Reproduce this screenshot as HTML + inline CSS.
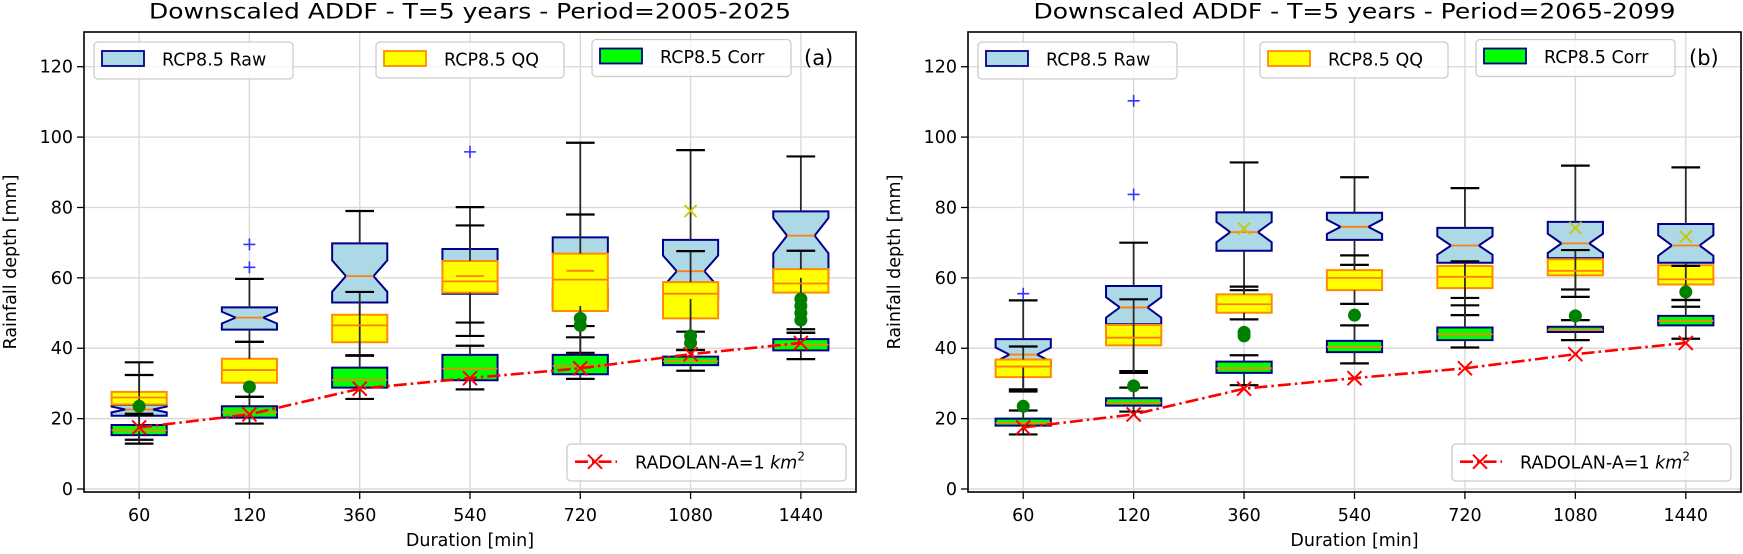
<!DOCTYPE html>
<html><head><meta charset="utf-8"><style>
html,body{margin:0;padding:0;background:#fff;}
svg{display:block;font-family:"DejaVu Sans","Liberation Sans",sans-serif;}
</style></head><body>
<svg id="fig" width="1743" height="554" viewBox="0 0 1743 554" xmlns="http://www.w3.org/2000/svg"></svg>
<script>
// ---- data ----
const durations = ["60","120","360","540","720","1080","1440"];
const yTicks = [0,20,40,60,80,100,120];
// each box: [whiskerLow, q1, median, q3, whiskerHigh]
const aRaw  = [[14,20.8,22.6,23.9,36],[41.8,45.3,48.7,51.6,59.7],[38,53,60.5,69.8,79],[43.5,55.5,60.5,68.2,80.1],[43.1,52,62,71.5,98.4],[44.7,54,61.9,70.8,96.3],[45.4,60,72,78.9,94.5]];
const aQQ   = [[21,24,26,27.6,32.4],[26.2,30.2,33.8,37,41.8],[37.9,41.7,46.5,49.5,56],[47.3,55.8,59,64.8,74.9],[38.7,50.6,59.5,66.9,78],[39.5,48.5,55.5,58.8,67.6],[44.4,55.8,58.4,62.5,67.7]];
const aCorr = [[12.9,15.3,16.7,18.2,21.4],[18.6,20.3,21.8,23.5,26.2],[25.6,28.8,31,34.5,37.9],[28.3,30.9,34.2,38.1,40.7],[31.3,32.6,35,38.1,46.3],[33.6,35.2,36.3,37.6,39.5],[36.9,39.4,41,42.6,44.4]];
const aRawFliers  = [[],[63,69.5],[],[95.8],[],[],[]];
const aQQFliers   = [[],[],[],[],[],[79],[]];
const aCorrFliers = [[23.5],[29],[],[],[46.5,48.5],[41.5,43.5],[48,50,52,54]];
const bRaw  = [[28.3,35,38.2,42.6,53.6],[33.5,46.8,51.6,57.7,70],[56.5,67.7,73,78.6,92.8],[63.7,70.8,74.5,78.5,88.6],[54.3,64.3,69.2,74.2,85.5],[56.7,65.6,69.8,75.9,91.9],[53.7,64.3,69.2,75.3,91.4]];
const bQQ   = [[27.7,31.8,34.8,36.8,40.5],[33,40.8,43,46.6,53.9],[48.2,50.1,52.5,55.3,57.5],[52.6,56.5,60,62.2,66.4],[49.4,57.1,60.3,63.4,64.7],[54.6,60.7,62,65.3,67.9],[51.8,58.1,59.6,63.6,63.4]];
const bCorr = [[15.5,18,18.8,20,22.3],[22,23.7,24.5,25.8,28.8],[29.5,33,34.3,36.2,38],[35.7,38.9,40.4,42.1,46.5],[40.2,42.3,44,45.9,52.2],[42.3,44.6,45.2,46.1,48],[42.7,46.5,47.8,49.2,53.7]];
const bRawFliers  = [[55.5],[83.7,110.3],[],[],[],[],[]];
const bQQFliers   = [[],[],[74],[],[],[74.2],[71.7]];
const bCorrFliers = [[23.5],[29.3],[43.5,44.5],[49.4],[],[49.2],[56]];
const radolan = [17.5,21.2,28.5,31.5,34.3,38.3,41.5];

// ---- layout ----
const NS="http://www.w3.org/2000/svg";
const svg=document.getElementById('fig');
function mk(tag,attrs,parent){const e=document.createElementNS(NS,tag);for(const k in attrs)e.setAttribute(k,attrs[k]);(parent||svg).appendChild(e);return e;}
const Y0=489, PXU=3.519, TOP=32, BOT=492;
function yS(v){return Y0-v*PXU;}

function drawPanel(p){
  const L=p.left,R=p.right,unit=(R-L)/7;
  function xS(i){return L+(i+0.5)*unit;}
  const g=mk('g',{});
  
  
  // grid
  yTicks.forEach(t=>{const l=mk('line',{x1:L,x2:R,y1:yS(t),y2:yS(t),stroke:'#dadada','stroke-width':1.4},g);
    });
  durations.forEach((d,i)=>{const l=mk('line',{x1:xS(i),x2:xS(i),y1:TOP,y2:BOT,stroke:'#dadada','stroke-width':1.4},g);
    });
  const W=0.25*unit, C=0.13*unit;
  const series=[
    {d:p.raw,f:p.rawF,fill:'#add8e6',edge:'#00008b',notch:true,name:'raw'},
    {d:p.qq,f:p.qqF,fill:'#ffff00',edge:'#ff8c00',notch:false,name:'qq'},
    {d:p.corr,f:p.corrF,fill:'#00ff00',edge:'#00008b',notch:false,name:'corr'}];
  // patches
  series.forEach(s=>{s.d.forEach((b,i)=>{
    const x=xS(i),q1=b[1],m=b[2],q3=b[3];
    let dstr;
    if(s.notch){
      const h=1.57*(q3-q1)/Math.sqrt(35);
      const nlo=Math.max(q1,m-h),nhi=Math.min(q3,m+h);
      dstr=`M${x-W},${yS(q1)}L${x+W},${yS(q1)}L${x+W},${yS(nlo)}L${x+W/2},${yS(m)}L${x+W},${yS(nhi)}L${x+W},${yS(q3)}L${x-W},${yS(q3)}L${x-W},${yS(nhi)}L${x-W/2},${yS(m)}L${x-W},${yS(nlo)}Z`;
    } else {
      dstr=`M${x-W},${yS(q1)}L${x+W},${yS(q1)}L${x+W},${yS(q3)}L${x-W},${yS(q3)}Z`;
    }
    const e=mk('path',{d:dstr,fill:s.fill,stroke:s.edge,'stroke-width':2,'stroke-linejoin':'miter'},g);
    
    
  });});
  // lines
  series.forEach(s=>{s.d.forEach((b,i)=>{
    const x=xS(i);
    [[b[0],b[1]],[b[3],b[4]]].forEach(w=>{const e=mk('line',{x1:x,x2:x,y1:yS(w[0]),y2:yS(w[1]),stroke:'#2a2a2a','stroke-width':1.8},g);
      });
    [b[0],b[4]].forEach(c=>{const e=mk('line',{x1:x-C,x2:x+C,y1:yS(c),y2:yS(c),stroke:'#000','stroke-width':2.2},g);
      });
    const mw=s.notch?W/2:W;
    const md=mk('line',{x1:x-mw,x2:x+mw,y1:yS(b[2]),y2:yS(b[2]),stroke:'#ff7f0e','stroke-width':1.8},g);
    
    s.f[i].forEach(v=>{
      const y=yS(v);let e;
      if(s.name==='raw'){e=mk('path',{d:`M${x-6},${y}H${x+6}M${x},${y-6}V${y+6}`,stroke:'#3333ff','stroke-width':1.6,fill:'none'},g);}
      else if(s.name==='qq'){e=mk('path',{d:`M${x-6},${y-6}L${x+6},${y+6}M${x-6},${y+6}L${x+6},${y-6}`,stroke:'#c8c800','stroke-width':1.8,fill:'none'},g);}
      else {e=mk('circle',{cx:x,cy:y,r:6.5,fill:'#008000'},g);}
      
    });
  });});
  // radolan
  const pts=radolan.map((v,i)=>xS(i)+','+yS(v)).join(' ');
  const pl=mk('polyline',{points:pts,fill:'none',stroke:'#ff0000','stroke-width':2.6,'stroke-dasharray':'13,4,2.5,4'},g);
  
  radolan.forEach((v,i)=>{const x=xS(i),y=yS(v);
    const e=mk('path',{d:`M${x-7},${y-7}L${x+7},${y+7}M${x-7},${y+7}L${x+7},${y-7}`,stroke:'#ff0000','stroke-width':2,fill:'none'},g);
    });
  // spines
  const sp=mk('rect',{x:L,y:TOP,width:R-L,height:BOT-TOP,fill:'none',stroke:'#000','stroke-width':1.6},g);
  
  // y ticks
  yTicks.forEach(t=>{
    const tk=mk('line',{x1:L-7,x2:L,y1:yS(t),y2:yS(t),stroke:'#000','stroke-width':1.3},g);
    
    const tx=mk('text',{x:L-11,y:yS(t)+6,'text-anchor':'end','font-size':17.5,fill:'#000'},g);
    tx.textContent=t;
  });
  durations.forEach((d,i)=>{
    const tk=mk('line',{x1:xS(i),x2:xS(i),y1:BOT,y2:BOT+7,stroke:'#000','stroke-width':1.3},g);
    
    const tx=mk('text',{x:xS(i),y:521,'text-anchor':'middle','font-size':17.5,fill:'#000'},g);
    tx.textContent=d;
  });
  const cx=(L+R)/2;
  const xl=mk('text',{x:cx,y:546,'text-anchor':'middle','font-size':17.5},g);
  xl.textContent='Duration [min]';
  const ylx=L-68;
  const yl=mk('text',{x:ylx,y:262,'text-anchor':'middle','font-size':17.5,transform:`rotate(-90 ${ylx} 262)`},g);
  yl.textContent='Rainfall depth [mm]';
  const tt=mk('text',{x:cx,y:18.5,'text-anchor':'middle','font-size':21.5,textLength:642,lengthAdjust:'spacingAndGlyphs'},g);
  tt.textContent=p.title;
  // legends
  const legs=[{x0:10,w:199,y0:10,h:37,label:'RCP8.5 Raw',fill:'#add8e6',edge:'#00008b',n:'legend-raw'},
              {x0:292,w:188,y0:10,h:36,label:'RCP8.5 QQ',fill:'#ffff00',edge:'#ff8c00',n:'legend-qq'},
              {x0:508,w:199,y0:7.5,h:37,label:'RCP8.5 Corr',fill:'#00ff00',edge:'#00008b',n:'legend-corr'}];
  legs.forEach(l=>{
    const lg=mk('g',{},g);
    mk('rect',{x:L+l.x0,y:TOP+l.y0,width:l.w,height:l.h,rx:4,fill:'rgba(255,255,255,0.8)',stroke:'#cccccc','stroke-width':1.3},lg);
    mk('rect',{x:L+l.x0+8,y:TOP+l.y0+9,width:42,height:15,fill:l.fill,stroke:l.edge,'stroke-width':1.8},lg);
    const t=mk('text',{x:L+l.x0+68,y:TOP+l.y0+23.5,'font-size':17.5},lg);t.textContent=l.label;
  });
  const pl2=mk('text',{x:R-52,y:65,'font-size':21},g);pl2.textContent=p.tag;
  
  const rg=mk('g',{},g);
  mk('rect',{x:R-289,y:444,width:279,height:37,rx:4,fill:'rgba(255,255,255,0.8)',stroke:'#cccccc','stroke-width':1.3},rg);
  mk('line',{x1:R-281,x2:R-239,y1:461.7,y2:461.7,stroke:'#ff0000','stroke-width':2.6,'stroke-dasharray':'13,4,2.5,4'},rg);
  const mxx=R-261;
  mk('path',{d:`M${mxx-7},454.7L${mxx+7},468.7M${mxx-7},468.7L${mxx+7},454.7`,stroke:'#ff0000','stroke-width':2,fill:'none'},rg);
  const rt=mk('text',{x:R-221,y:468.3,'font-size':17.5},rg);
  rt.appendChild(document.createTextNode('RADOLAN-A=1 '));
  const ts=mk('tspan',{'font-style':'italic'},rt);ts.textContent='km';
  const sup=mk('tspan',{'font-size':12,dy:-8},rt);sup.textContent='2';
}
drawPanel({name:'panel-a',left:84,right:856,raw:aRaw,qq:aQQ,corr:aCorr,rawF:aRawFliers,qqF:aQQFliers,corrF:aCorrFliers,title:'Downscaled ADDF - T=5 years - Period=2005-2025',tag:'(a)'});
drawPanel({name:'panel-b',left:968,right:1741,raw:bRaw,qq:bQQ,corr:bCorr,rawF:bRawFliers,qqF:bQQFliers,corrF:bCorrFliers,title:'Downscaled ADDF - T=5 years - Period=2065-2099',tag:'(b)'});
</script>
</body></html>
